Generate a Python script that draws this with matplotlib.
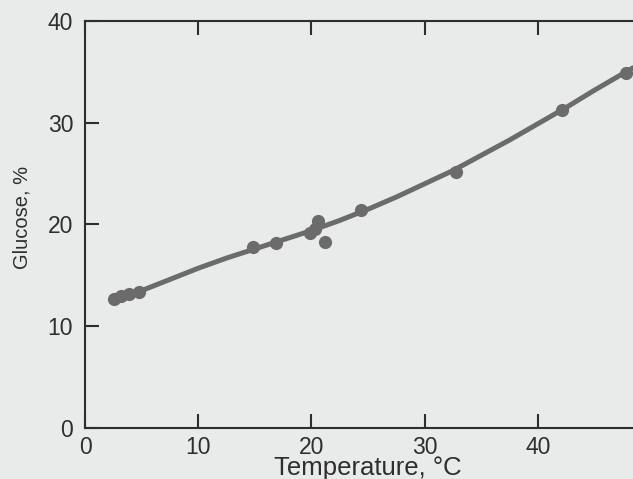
import matplotlib
matplotlib.use("Agg")
import matplotlib.pyplot as plt

# measured points (temperature, glucose %)
temp_pts = [2.6, 3.2, 3.9, 4.8, 14.8, 16.9, 19.9, 20.3, 20.6, 21.2, 24.4, 32.8, 42.1, 47.8]
gluc_pts = [12.7, 13.0, 13.2, 13.4, 17.8, 18.2, 19.2, 19.6, 20.3, 18.3, 21.4, 25.2, 31.3, 34.9]

# fitted curve
temp_fit = [2.5, 5, 7.5, 10, 12.5, 15, 17.5, 20, 22.5, 25, 27.5, 30, 32.5, 35,
            37.5, 40, 42.5, 45, 48.4]
gluc_fit = [12.6, 13.5, 14.6, 15.7, 16.7, 17.6, 18.5, 19.4, 20.4, 21.5, 22.7,
            24.0, 25.3, 26.8, 28.3, 29.9, 31.5, 33.2, 35.4]

x_ticks = [0, 10, 20, 30, 40]
y_ticks = [0, 10, 20, 30, 40]

plt.rcParams["font.family"] = ["Liberation Sans", "DejaVu Sans"]
ink = "#2e2e2e"
mark = "#6b6b6b"

fig = plt.figure(figsize=(6.33, 4.79), dpi=100)
fig.patch.set_facecolor("#e9ebea")
ax = fig.add_axes([0.1343, 0.1065, 0.8657, 0.8497])
ax.set_facecolor("#e9ebea")

ax.plot(temp_fit, gluc_fit, color=mark, lw=3.6, solid_capstyle="round", zorder=2)
ax.plot(temp_pts, gluc_pts, "o", color=mark, ms=9.5, mec="none", zorder=3)

ax.set_xlim(0, 48.4)
ax.set_ylim(0, 40)
ax.set_xticks(x_ticks)
ax.set_yticks(y_ticks)

for s in ("left", "bottom", "top"):
    ax.spines[s].set_color(ink)
    ax.spines[s].set_linewidth(1.5)
ax.spines["right"].set_visible(False)

ax.tick_params(axis="both", direction="in", length=10, width=1.5, color=ink,
               labelsize=16.5, labelcolor=ink)
ax.tick_params(axis="x", top=True, pad=6)
ax.tick_params(axis="y", pad=8.5)

ax.set_xlabel("Temperature, °C", fontsize=18.5, color=ink)
ax.xaxis.set_label_coords(0.516, -0.068)
ax.set_ylabel("Glucose, %", fontsize=14.5, color=ink)
ax.yaxis.set_label_coords(-0.097, 0.518)

fig.savefig("out.png", dpi=100, facecolor=fig.get_facecolor())
